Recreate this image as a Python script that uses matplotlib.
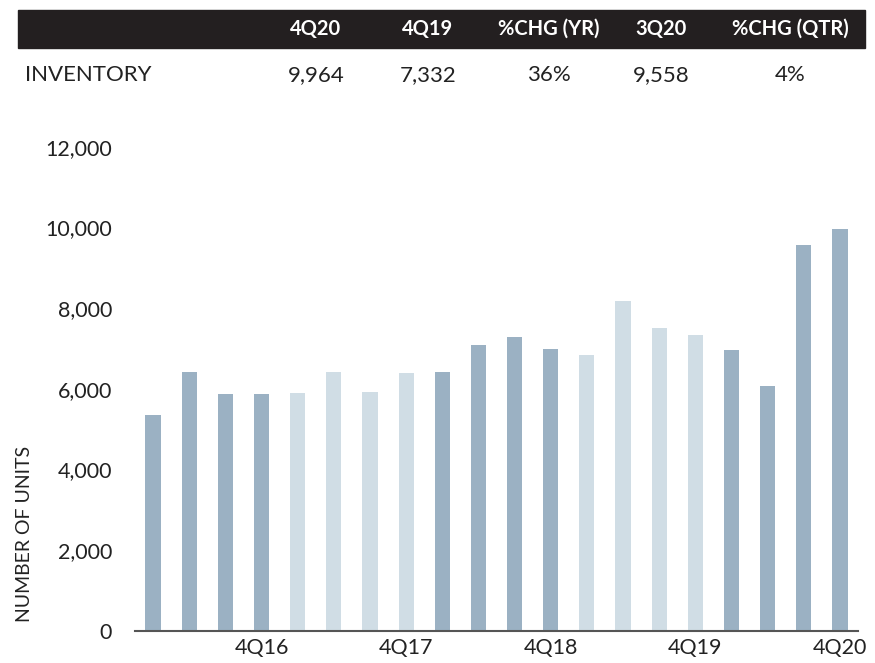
import matplotlib.pyplot as plt
from matplotlib.patches import Rectangle

plt.rcParams['font.family'] = ['Lato', 'DejaVu Sans']

quarters = ["1Q16", "2Q16", "3Q16", "4Q16", "1Q17", "2Q17", "3Q17", "4Q17",
            "1Q18", "2Q18", "3Q18", "4Q18", "1Q19", "2Q19", "3Q19", "4Q19",
            "1Q20", "2Q20", "3Q20", "4Q20"]
inventory = [5350, 6416, 5870, 5870, 5895, 6416, 5920, 6391,
             6416, 7085, 7284, 6986, 6837, 8177, 7507, 7332,
             6961, 6069, 9558, 9964]
shade = ["dark", "dark", "dark", "dark", "light", "light", "light", "light",
         "dark", "dark", "dark", "dark", "light", "light", "light", "light",
         "dark", "dark", "dark", "dark"]
shown_ticks = ["4Q16", "4Q17", "4Q18", "4Q19", "4Q20"]

table_cols = ["4Q20", "4Q19", "%CHG (YR)", "3Q20", "%CHG (QTR)"]
table_vals = ["9,964", "7,332", "36%", "9,558", "4%"]
col_x = [316, 428, 549, 661, 790]

DARK = "#9bb1c3"
LIGHT = "#d0dde5"
TEXT = "#222222"

fig = plt.figure(figsize=(8.75, 6.63), dpi=100)
W, H = 875, 663

# header band
fig.patches.append(Rectangle((18 / W, 1 - 48 / H), 847 / W, 38 / H,
                             transform=fig.transFigure, color="#231f20", zorder=0))
for name, x in zip(table_cols, col_x):
    fig.text(x / W, 1 - 29 / H, name, color="white", fontsize=14.5, fontweight="bold",
             ha="center", va="center")
fig.text(25 / W, 1 - 75 / H, "INVENTORY", color=TEXT, fontsize=16,
         ha="left", va="center")
for v, x in zip(table_vals, col_x):
    fig.text(x / W, 1 - 75 / H, v, color=TEXT, fontsize=16, ha="center", va="center")

ax = fig.add_axes([135 / W, 1 - 630.7 / H, 723 / W, 483.8 / H])
xs = range(len(quarters))
colors = [DARK if s == "dark" else LIGHT for s in shade]
ax.bar(xs, inventory, width=0.42, color=colors)

ax.set_xlim(-0.5, len(quarters) - 0.5)
ax.set_ylim(0, 12000)
ax.set_yticks(range(0, 12001, 2000))
ax.set_yticklabels([f"{v:,}" for v in range(0, 12001, 2000)])
ax.set_xticks([quarters.index(q) for q in shown_ticks])
ax.set_xticklabels(shown_ticks)
ax.tick_params(axis="both", length=0, labelsize=15.5, colors=TEXT)
ax.tick_params(axis="y", pad=16.5)
ax.tick_params(axis="x", pad=5)
for side in ["top", "right", "left"]:
    ax.spines[side].set_visible(False)
ax.spines["bottom"].set_color("#555555")
ax.spines["bottom"].set_linewidth(1.5)

fig.text(25 / W, 1 - 534 / H, "NUMBER OF UNITS", rotation=90, color=TEXT,
         fontsize=14, ha="center", va="center")

fig.savefig("out.png", dpi=100)
